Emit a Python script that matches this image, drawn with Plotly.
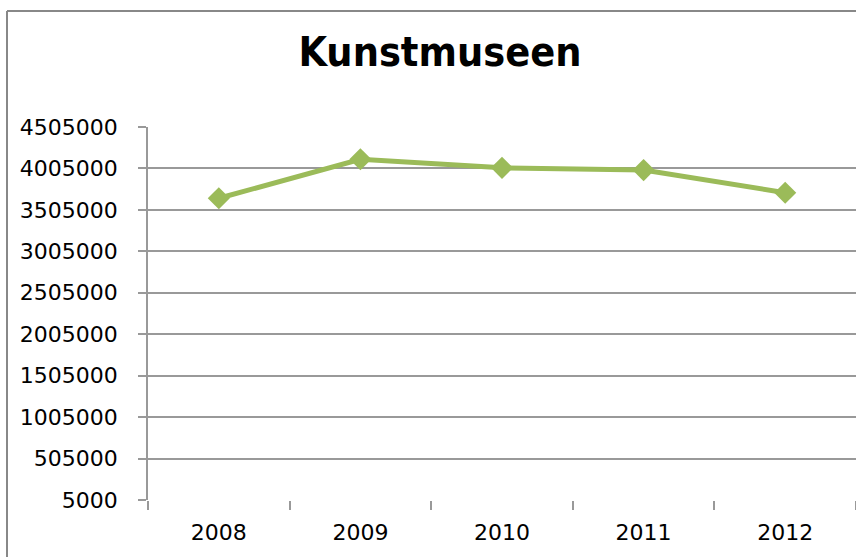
import plotly.graph_objects as go

years = ["2008", "2009", "2010", "2011", "2012"]
visitors = [3645000, 4116000, 4012000, 3985000, 3712000]
y_ticks = [5000, 505000, 1005000, 1505000, 2005000, 2505000, 3005000, 3505000, 4005000, 4505000]

tick_font = dict(family="DejaVu Sans", size=22, color="black")

fig = go.Figure()
fig.add_trace(go.Scatter(
    x=years, y=visitors, mode="lines+markers",
    line=dict(color="#9BBB59", width=5),
    marker=dict(symbol="diamond", size=17, color="#9BBB59"),
    showlegend=False,
))

L, T, B = 148, 127, 57
PW, PH = 856 - L, 557 - T - B

fig.update_layout(
    width=856, height=557,
    margin=dict(l=L, r=0, t=T, b=B, autoexpand=False),
    paper_bgcolor="white", plot_bgcolor="white",
    title=dict(
        text="<b>Kunstmuseen</b>",
        x=440 / 856, xanchor="center", xref="container",
        y=1 - 52 / 557, yanchor="middle", yref="container",
        font=dict(family="DejaVu Sans Condensed, sans-serif", size=41, color="black"),
    ),
    xaxis=dict(
        type="category", range=[-0.5, 4.5],
        showgrid=False, showline=False,
        ticks="outside", tickson="boundaries", ticklen=9, tickwidth=1.5, tickcolor="#999999",
        tickfont=tick_font, ticklabelstandoff=17,
    ),
    yaxis=dict(
        range=[5000, 4505000], tickvals=y_ticks, ticktext=[str(v) for v in y_ticks],
        showgrid=True, gridcolor="#999999", gridwidth=1.5,
        showline=True, linecolor="#999999", linewidth=1.5,
        ticks="outside", ticklen=8, tickwidth=1.5, tickcolor="#999999",
        tickfont=tick_font, ticklabelstandoff=16, zeroline=False,
    ),
    shapes=[
        dict(type="line", xref="paper", yref="paper", x0=(7 - L) / PW, x1=1.01,
             y0=1 + (T - 11) / PH, y1=1 + (T - 11) / PH, line=dict(color="#888888", width=2)),
        dict(type="line", xref="paper", yref="paper", x0=(7 - L) / PW, x1=(7 - L) / PW,
             y0=1 + (T - 11) / PH, y1=-0.2, line=dict(color="#888888", width=2)),
    ],
)

fig.write_html(
    "out.html",
    config={"displayModeBar": False},
    post_script="document.body.style.margin='0';document.body.style.overflow='hidden';",
)
